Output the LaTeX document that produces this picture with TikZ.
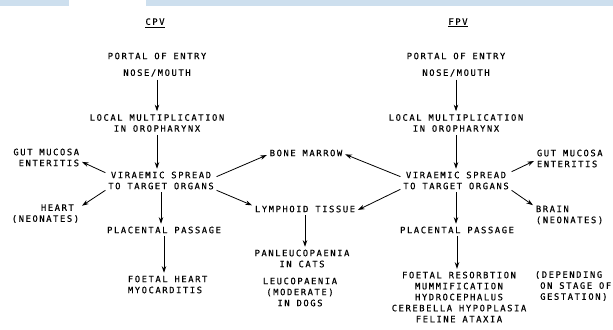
\documentclass[tikz,border=0pt]{standalone}
\usepackage{fontspec}
\newfontfamily\plotfont[LetterSpace=18,FakeBold=0.4]{DejaVu Sans Mono}
\usetikzlibrary{arrows.meta}
\definecolor{barblue}{RGB}{205,223,238}

\begin{document}
\begin{tikzpicture}[x=0.75pt, y=-0.75pt,
    every node/.style={font=\plotfont\fontsize{6.6}{8.25}\selectfont, inner sep=2pt, align=center},
    flow/.style={-{Stealth[length=5pt,width=3.4pt]}, line width=0.6pt}]
  \useasboundingbox (0,0) rectangle (613,329);
  \fill[barblue] (0,0) rectangle (69,6);
  \fill[barblue] (146,0) rectangle (613,6);

  % CPV column
  \node (cpvtitle) at (155,23) {\underline{CPV}};
  \node (cpvportal) at (157,56) {PORTAL OF ENTRY};
  \node (cpvnose) at (157,73) {NOSE/MOUTH};
  \node (cpvlocal) at (157,123) {LOCAL MULTIPLICATION\\IN OROPHARYNX};
  \node (cpvvir) at (161,180.5) {VIRAEMIC SPREAD\\TO TARGET ORGANS};
  \node[anchor=east, align=right] (cpvgut) at (82,157.5) {GUT MUCOSA\\ENTERITIS};
  \node[anchor=east, align=right] (cpvheart) at (82,213.5) {HEART\phantom{)}\\(NEONATES)};
  \node (cpvplac) at (164,230) {PLACENTAL PASSAGE};
  \node[anchor=west, align=left] (cpvfoetal) at (125,284.5) {FOETAL HEART\\MYOCARDITIS};

  % shared targets
  \node (bone) at (306,153) {BONE MARROW};
  \node (lymph) at (305,209) {LYMPHOID TISSUE};
  \node (panl) at (302,258.5) {PANLEUCOPAENIA\\IN CATS};
  \node (leuc) at (300,292) {LEUCOPAENIA\\(MODERATE)\\IN DOGS};

  % FPV column
  \node (fpvtitle) at (458,23) {\underline{FPV}};
  \node (fpvportal) at (456,56) {PORTAL OF ENTRY};
  \node (fpvnose) at (456,73) {NOSE/MOUTH};
  \node (fpvlocal) at (456,123) {LOCAL MULTIPLICATION\\IN OROPHARYNX};
  \node (fpvvir) at (456,180.5) {VIRAEMIC SPREAD\\TO TARGET ORGANS};
  \node[anchor=west, align=left] (fpvgut) at (534,158.5) {GUT MUCOSA\\ENTERITIS};
  \node[anchor=west, align=left] (fpvbrain) at (533,215) {BRAIN\\(NEONATES)};
  \node (fpvplac) at (457,230) {PLACENTAL PASSAGE};
  \node (fpvfoetal) at (459,297) {FOETAL RESORBTION\\MUMMIFICATION\\HYDROCEPHALUS\\CEREBELLA HYPOPLASIA\\FELINE ATAXIA};
  \node[anchor=west, align=left] (fpvstage) at (532,286) {(DEPENDING\\\phantom{(}ON STAGE OF\\\phantom{(}GESTATION)};

  % CPV arrows
  \draw[flow] (cpvnose.south) -- (cpvnose.south |- cpvlocal.north);
  \draw[flow] (cpvlocal.south) -- (cpvlocal.south |- cpvvir.north);
  \draw[flow] (cpvvir.south) -- (cpvvir.south |- cpvplac.north);
  \draw[flow] (cpvplac.south) -- (cpvplac.south |- cpvfoetal.north);
  \draw[flow] (cpvvir.172) -- (cpvgut.353);
  \draw[flow] (cpvvir.190) -- (cpvheart.12);
  \draw[flow] (cpvvir.4) -- (bone.183);
  \draw[flow] (cpvvir.350) -- (lymph.176);

  \draw[flow] (lymph.south) -- (lymph.south |- panl.north);

  % FPV arrows
  \draw[flow] (fpvnose.south) -- (fpvnose.south |- fpvlocal.north);
  \draw[flow] (fpvlocal.south) -- (fpvlocal.south |- fpvvir.north);
  \draw[flow] (fpvvir.south) -- (fpvvir.south |- fpvplac.north);
  \draw[flow] (fpvplac.south) -- (fpvplac.south |- fpvfoetal.north);
  \draw[flow] (fpvvir.176) -- (bone.358);
  \draw[flow] (fpvvir.189) -- (lymph.359);
  \draw[flow] (fpvvir.9) -- (fpvgut.184);
  \draw[flow] (fpvvir.350) -- (fpvbrain.165);
\end{tikzpicture}
\end{document}
